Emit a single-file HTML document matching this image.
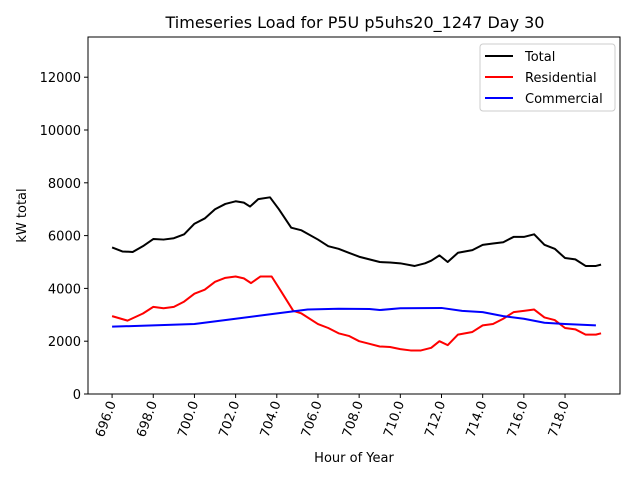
<!DOCTYPE html>
<html><head><meta charset="utf-8"><style>
body{margin:0;background:#fff}
svg{font-family:"DejaVu Sans","Liberation Sans",sans-serif}
</style></head><body>
<svg id="c" width="640" height="480"></svg>
<script>
const totalHours=[696,696.5,697,697.5,698,698.5,699,699.5,700,700.5,701,701.5,702,702.4,702.7,703.1,703.67,704.1,704.7,705.2,706,706.5,707,707.5,708,708.5,709,709.5,710,710.7,711.2,711.5,711.9,712.3,712.8,713.5,714,714.5,715,715.5,716,716.5,717,717.5,718,718.5,719,719.5,719.75];
const totalVals=[5550,5400,5380,5600,5870,5850,5900,6050,6450,6650,7000,7200,7300,7250,7100,7380,7450,7000,6300,6200,5850,5600,5500,5350,5200,5100,5000,4980,4950,4850,4950,5050,5250,5000,5350,5450,5650,5700,5750,5950,5950,6050,5650,5500,5150,5100,4850,4850,4900];
const resHours=[696,696.75,697.5,698,698.5,699,699.5,700,700.5,701,701.5,702,702.4,702.75,703.2,703.75,704.2,704.8,705.2,706,706.5,707,707.5,708,708.5,709,709.5,710,710.5,711,711.5,711.9,712.3,712.8,713.5,714,714.5,715,715.5,716,716.5,717,717.5,718,718.5,719,719.5,719.75];
const resVals=[2950,2780,3050,3300,3250,3300,3500,3800,3950,4250,4400,4450,4380,4200,4450,4450,3900,3150,3050,2650,2500,2300,2200,2000,1900,1800,1780,1700,1650,1650,1750,2000,1850,2250,2350,2600,2650,2850,3100,3150,3200,2900,2800,2500,2450,2250,2250,2300];
const comHours=[696,698,700,702,703.5,704.5,705.5,707,708.5,709,710,712,713,714,715,716,717,718,719.5];
const comVals=[2550,2600,2650,2850,3000,3100,3200,3230,3220,3180,3250,3260,3150,3100,2950,2850,2700,2650,2600];
const xTicks=[696,698,700,702,704,706,708,710,712,714,716,718];
const yTicks=[0,2000,4000,6000,8000,10000,12000];
const L=88,R=620,T=37,B=394,x0=694.83,x1=720.67,y0=0,y1=13523;
const X=v=>L+(v-x0)/(x1-x0)*(R-L), Y=v=>B-(v-y0)/(y1-y0)*(B-T);
const svg=document.getElementById('c'),NS='http://www.w3.org/2000/svg';
function mk(t,a,p){const e=document.createElementNS(NS,t);for(const k in a)e.setAttribute(k,a[k]);(p||svg).appendChild(e);return e;}
let e=mk('text',{x:355,y:28,'text-anchor':'middle','font-size':16});e.textContent='Timeseries Load for P5U p5uhs20_1247  Day 30';


xTicks.forEach(v=>{const x=X(v);mk('line',{x1:x,x2:x,y1:B,y2:B+4,stroke:'#000'});
 const t=mk('text',{transform:`translate(${x+4},${B+9}) rotate(-70)`,'text-anchor':'end','font-size':13});t.textContent=v.toFixed(1);
 
 });
yTicks.forEach(v=>{const y=Y(v);mk('line',{x1:L-4,x2:L,y1:y,y2:y,stroke:'#000'});
 const t=mk('text',{x:L-7,y:y+5,'text-anchor':'end','font-size':13});t.textContent=v;
 
 });
e=mk('text',{x:354,y:462,'text-anchor':'middle','font-size':13});e.textContent='Hour of Year';


e=mk('text',{transform:`translate(26,${(T+B)/2}) rotate(-90)`,'text-anchor':'middle','font-size':13});e.textContent='kW total';


function line(hs,vs,c,n){const p=mk('polyline',{points:hs.map((h,i)=>X(h)+','+Y(vs[i])).join(' '),fill:'none',stroke:c,'stroke-width':2,'stroke-linejoin':'round'});
 
 }
line(totalHours,totalVals,'#000','total-line');
line(resHours,resVals,'#f00','residential-line');
line(comHours,comVals,'#00f','commercial-line');
e=mk('rect',{x:L,y:T,width:R-L,height:B-T,fill:'none',stroke:'#000'});


const lg=mk('g',{});


mk('rect',{x:480,y:44,width:135,height:67,rx:3,fill:'#fff',stroke:'#ccc'},lg);
[['Total','#000'],['Residential','#f00'],['Commercial','#00f']].forEach((d,i)=>{const y=56+i*21;
 mk('line',{x1:485,x2:513,y1:y,y2:y,stroke:d[1],'stroke-width':2},lg);
 const t=mk('text',{x:525,y:y+5,'font-size':13},lg);t.textContent=d[0];
 
 });
</script></body></html>
